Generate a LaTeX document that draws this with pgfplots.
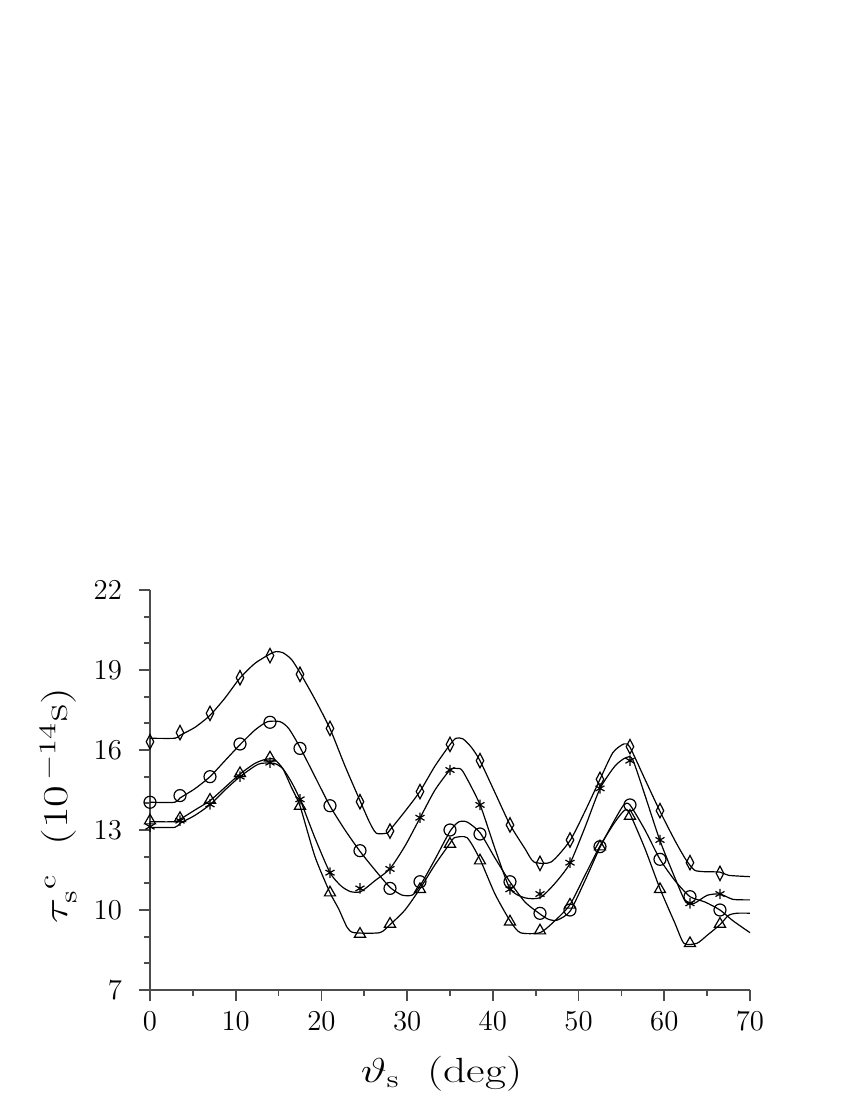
\documentclass[border=0pt]{standalone}
\usepackage{pgfplots}
\usepackage{graphicx}
\pgfplotsset{compat=1.18}
\begin{document}
\begin{tikzpicture}
\useasboundingbox (-75pt,-55pt) rectangle (350pt,495pt);
\begin{axis}[
  at={(0,0)}, anchor=south west,
  scale only axis, width=300pt, height=200pt,
  xmin=0, xmax=70, ymin=7, ymax=22,
  axis lines=left,
  axis line style={-, black!70, line width=0.9pt},
  every tick/.style={black!70, line width=0.9pt},
  tick align=outside,
  major tick length=5.5pt, minor tick length=3pt,
  xtick={0,10,...,70}, minor x tick num=1,
  ytick={7,10,13,16,19,22}, minor y tick num=2,
  tick label style={font=\fontsize{15}{17}\selectfont},
  xticklabel style={yshift=-2pt},
  yticklabel style={xshift=-5pt},
  xlabel={\scalebox{1.3}[1.0]{$\vartheta_{\mathrm{s}}$\ \ (deg)}},
  ylabel={\scalebox{1.35}[1.0]{$\tau_{\mathrm{s}}^{\;\mathrm{c}}$\ \ (10$^{\,-14}$s)}},
  label style={font=\fontsize{17.5}{20}\selectfont},
  xlabel style={at={(axis description cs:0.486,-0.21)}, anchor=center},
  ylabel style={at={(axis description cs:-0.153,0.46)}, anchor=center},
  clip=false,
]
% diamond series line
\addplot[black, line width=0.6pt, smooth, tension=0.4] table {
0 16.44
2.9 16.44
3.5 16.55
5.25 16.85
7 17.3
8.75 17.95
10.5 18.7
12.25 19.25
14 19.6
14.7 19.69
15.5 19.65
16.5 19.4
17.5 18.9
19.25 17.9
21 16.8
22.75 15.4
24.5 14.1
25.6 13.3
26.4 12.88
27.6 12.88
28 13.0
29.75 13.7
31.5 14.45
33.25 15.4
35 16.2
35.7 16.44
36.5 16.42
37.5 16.1
38.5 15.6
40.25 14.4
42 13.2
43.75 12.3
44.8 11.8
46.8 11.8
49 12.6
50.75 13.7
52.5 14.9
54 15.9
55.3 16.23
56 16.1
57.75 14.9
59.5 13.7
61.25 12.6
62.5 11.9
63.5 11.5
64.5 11.44
66.5 11.42
67.5 11.3
70 11.25
};
\addplot[only marks, mark=diamond, mark size=3.6pt, mark options={xscale=0.7, line width=0.6pt, fill=white}] table {
0 16.31
3.5 16.65
7 17.375
10.5 18.71
14 19.54
17.5 18.84
21 16.81
24.5 14.06
28 12.96
31.5 14.44
35 16.21
38.5 15.6
42 13.19
45.5 11.75
49 12.625
52.5 14.9
56 16.125
59.5 13.725
63 11.775
66.5 11.375
};
% circle series line
\addplot[black, line width=0.6pt, smooth, tension=0.4] table {
0 14.04
2.9 14.04
3.5 14.2
5.25 14.55
7 15.0
8.75 15.6
10.5 16.2
12.25 16.75
13.7 17.06
15.2 17.06
16.2 16.8
17.5 16.1
19.25 15.0
21 13.9
22.75 13.0
24.5 12.2
26.25 11.5
28 10.85
29.4 10.56
30.6 10.56
31.5 10.9
33.25 11.9
35 12.95
36 13.3
37 13.3
38.5 12.9
40.25 11.95
42 11.05
43.75 10.3
45.5 9.85
46.5 9.65
47.5 9.62
49 9.95
50.75 11.1
52.5 12.35
54.25 13.4
55.3 13.95
56 13.94
57.75 13.0
59.5 11.9
61.25 11.1
63 10.5
64.75 10.3
66.5 10.0
68 9.6
70 9.15
};
\addplot[only marks, mark=o, mark size=3pt, mark options={line width=0.6pt, fill=white}] table {
0 14.04
3.5 14.29
7 15.0
10.5 16.225
14 17.04
17.5 16.06
21 13.91
24.5 12.225
28 10.81
31.5 11.06
35 13.0
38.5 12.85
42 11.06
45.5 9.875
49 10.0
52.5 12.375
56 13.94
59.5 11.9
63 10.5
66.5 10.0
};
% star series line
\addplot[black, line width=0.6pt, smooth, tension=0.4] table {
0 13.1
2.9 13.1
3.5 13.25
5.25 13.55
7 13.95
8.75 14.5
10.5 15.0
12.25 15.4
13 15.5
14.5 15.5
15.5 15.3
16.5 14.8
17.5 14.15
19.25 12.7
21 11.4
22.3 10.9
23.4 10.69
24.6 10.69
26.25 11.1
28 11.55
29.75 12.4
31.5 13.45
33.25 14.5
35 15.25
35.8 15.31
36.5 15.2
38.5 13.95
40.25 12.3
42 10.8
43.7 10.46
45.5 10.46
47.25 11.0
49 11.75
50.75 13.1
52.5 14.55
54.25 15.4
55.5 15.71
56.3 15.65
57.75 14.3
59.5 12.6
61.25 11.2
62.5 10.3
63.5 10.25
65 10.55
66.5 10.6
68 10.4
70 10.38
};
\addplot[only marks, mark=asterisk, mark size=2.6pt, mark options={line width=0.6pt}] table {
0 13.125
3.5 13.35
7 13.96
10.5 15.0
14 15.525
17.5 14.15
21 11.4
24.5 10.81
28 11.54
31.5 13.46
35 15.25
38.5 13.94
42 10.775
45.5 10.6
49 11.775
52.5 14.56
56 15.6
59.5 12.625
63 10.25
66.5 10.6
};
% triangle series line
\addplot[black, line width=0.6pt, smooth, tension=0.4] table {
0 13.31
2.9 13.31
3.5 13.4
5.25 13.75
7 14.1
8.75 14.6
10.5 15.1
12.25 15.5
13.5 15.65
14.5 15.65
15.5 15.3
16.5 14.6
17.5 13.9
19.25 12.0
21 10.65
22 10.05
23 9.35
23.8 9.15
26.8 9.15
28 9.45
29.75 10.0
31.5 10.8
33.25 11.7
35 12.5
35.5 12.71
37 12.71
38.5 11.9
40.25 10.6
42 9.6
43.2 9.15
45.5 9.15
47.25 9.6
49 10.2
50.75 11.3
52.5 12.4
54.25 13.3
55.4 13.75
56 13.6
57.75 12.3
59.5 10.8
61.25 9.5
62.3 8.75
63.8 8.75
65 9.05
66.5 9.45
67.5 9.8
68.5 9.88
70 9.88
};
\addplot[only marks, mark=triangle, mark size=3.2pt, mark options={line width=0.6pt, fill=white}] table {
0 13.35
3.5 13.44
7 14.125
10.5 15.125
14 15.71
17.5 13.9
21 10.65
24.5 9.1
28 9.475
31.5 10.775
35 12.475
38.5 11.85
42 9.56
45.5 9.225
49 10.19
52.5 12.375
56 13.525
59.5 10.775
63 8.75
66.5 9.475
};
\end{axis}
\end{tikzpicture}
\end{document}
